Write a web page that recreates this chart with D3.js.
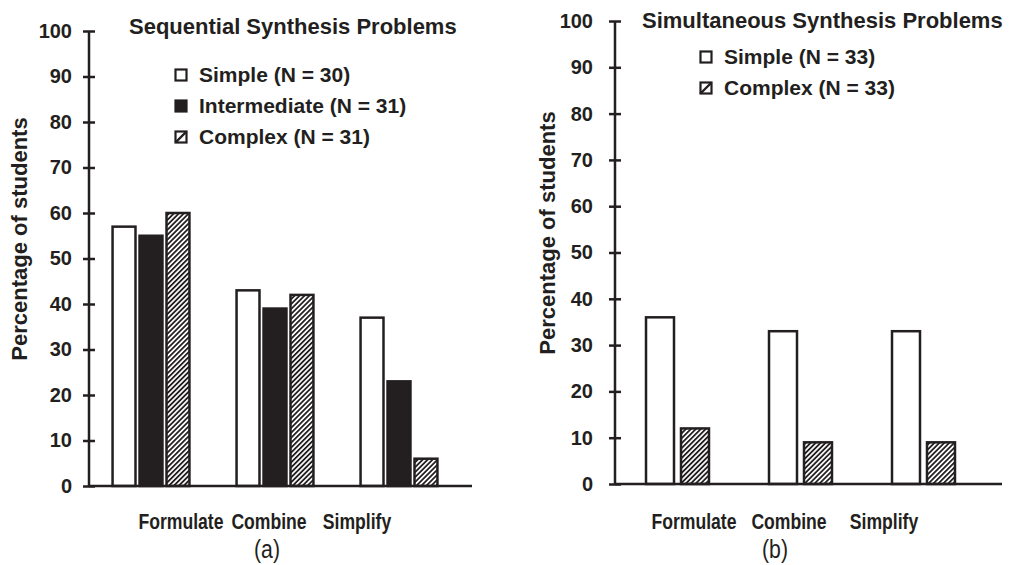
<!DOCTYPE html>
<html>
<head>
<meta charset="utf-8">
<script src="https://cdn.jsdelivr.net/npm/d3@7"></script>
<style>
  body { margin: 0; background: #fff; }
  svg { display: block; font-family: "Liberation Sans", Arial, sans-serif; }
</style>
</head>
<body>
<svg id="chart" width="1013" height="565"></svg>
<script>
//Data
var categories = ["Formulate", "Combine", "Simplify"];
var yTicks = [0, 10, 20, 30, 40, 50, 60, 70, 80, 90, 100];

var seqSeries = ["Simple (N = 30)", "Intermediate (N = 31)", "Complex (N = 31)"];
var seqSimple = [57, 43, 37];
var seqIntermediate = [55, 39, 23];
var seqComplex = [60, 42, 6];

var simSeries = ["Simple (N = 33)", "Complex (N = 33)"];
var simSimple = [36, 33, 33];
var simComplex = [12, 9, 9];

var svg = d3.select("#chart");
var ink = "#231f20";

//Hatch pattern for the "complex" bars
var defs = svg.append("defs");
var pat = defs.append("pattern")
    .attr("id", "hatch")
    .attr("patternUnits", "userSpaceOnUse")
    .attr("width", 3.5)
    .attr("height", 3.5)
    .attr("patternTransform", "rotate(45)");
pat.append("rect").attr("width", 3.5).attr("height", 3.5).attr("fill", "#fff");
pat.append("line")
    .attr("x1", 0).attr("y1", 0).attr("x2", 0).attr("y2", 3.5)
    .attr("stroke", ink).attr("stroke-width", 3.6);

var fills = { simple: "#fff", intermediate: ink, complex: "url(#hatch)" };

//Draws one panel
function panel(cfg)
{
    var g = svg.append("g");

    var y = d3.scaleLinear().domain([0, 100]).range([cfg.yBottom, cfg.yTop]);

    var x0 = d3.scaleBand()
        .domain(categories)
        .range(cfg.bandRange)
        .paddingInner(cfg.groupPad)
        .paddingOuter(cfg.groupPad / 2);

    var x1 = d3.scaleBand()
        .domain(cfg.series.map(function(s) { return s.name; }))
        .range([0, x0.bandwidth()])
        .paddingInner(cfg.barPad);

    //Bars
    cfg.series.forEach(function(s) {
        g.selectAll(null)
            .data(s.values)
            .enter()
            .append("rect")
            .attr("x", function(d, i) { return x0(categories[i]) + x1(s.name); })
            .attr("y", function(d) { return y(d); })
            .attr("width", x1.bandwidth())
            .attr("height", function(d) { return y(0) - y(d); })
            .attr("fill", s.fill)
            .attr("stroke", ink)
            .attr("stroke-width", 2.5);
    });

    //Y axis
    var yAxis = d3.axisLeft(y)
        .tickValues(yTicks)
        .tickSize(6)
        .tickPadding(cfg.tickPad);
    var ya = g.append("g")
        .attr("transform", "translate(" + cfg.axisX + ",0)")
        .call(yAxis);
    ya.select(".domain").remove();
    ya.append("line")
        .attr("x1", 0).attr("x2", 0)
        .attr("y1", y(100)).attr("y2", y(0))
        .attr("stroke", ink).attr("stroke-width", 2.5);
    ya.selectAll(".tick line")
        .attr("x1", 6)
        .attr("x2", -6)
        .attr("stroke", ink)
        .attr("stroke-width", 2.5);
    ya.selectAll(".tick text")
        .attr("fill", ink)
        .style("font-size", "20px")
        .style("font-weight", "bold")
        .style("font-family", "'Liberation Sans', Arial, sans-serif");

    //X axis line
    g.append("line")
        .attr("x1", cfg.axisX).attr("x2", cfg.xEnd)
        .attr("y1", y(0)).attr("y2", y(0))
        .attr("stroke", ink).attr("stroke-width", 2.5);

    //Category labels (narrow lettering, and off the bar groups like the original)
    var xl = d3.scalePoint().domain(categories).range(cfg.labelRange);
    g.selectAll(".cat")
        .data(categories)
        .enter()
        .append("text")
        .attr("class", "cat")
        .attr("transform", function(d) {
            return "translate(" + xl(d) + "," + cfg.labelY + ") scale(0.8,1)";
        })
        .attr("text-anchor", "middle")
        .attr("fill", ink)
        .style("font-size", "22px")
        .style("font-weight", "bold")
        .text(function(d) { return d; });

    //Y title
    g.append("text")
        .attr("transform", "translate(" + cfg.yTitleX + "," + cfg.yTitleY + ") rotate(-90)")
        .attr("text-anchor", "middle")
        .attr("fill", ink)
        .style("font-size", "22px")
        .style("font-weight", "bold")
        .text("Percentage of students");

    //Title
    g.append("text")
        .attr("x", cfg.titleX)
        .attr("y", cfg.titleY)
        .attr("fill", ink)
        .style("font-size", "22px")
        .style("font-weight", "bold")
        .text(cfg.title);

    //Legend
    var legend = g.selectAll(".legend")
        .data(cfg.series)
        .enter()
        .append("g")
        .attr("class", "legend")
        .attr("transform", function(d, i) {
            return "translate(" + cfg.legendX + "," + (cfg.legendY + i * 31) + ")";
        });

    legend.append("rect")
        .attr("x", -5.5).attr("y", -5.5)
        .attr("width", 11).attr("height", 11)
        .attr("fill", function(d) { return d.key == "intermediate" ? ink : "#fff"; })
        .attr("stroke", ink)
        .attr("stroke-width", 2.2);

    legend.filter(function(d) { return d.key == "complex"; })
        .append("line")
        .attr("x1", -5.5).attr("y1", 5.5).attr("x2", 5.5).attr("y2", -5.5)
        .attr("stroke", ink).attr("stroke-width", 2.4);

    legend.append("text")
        .attr("x", 18)
        .attr("y", 7)
        .attr("fill", ink)
        .style("font-size", "21px")
        .style("font-weight", "bold")
        .text(function(d) { return d.name; });

    //Panel letter
    svg.append("text")
        .attr("transform", "translate(" + cfg.letterX + ",558) scale(0.85,1)")
        .attr("text-anchor", "middle")
        .attr("fill", ink)
        .style("font-size", "25px")
        .text(cfg.letter);
}

panel({
    title: "Sequential Synthesis Problems",
    letter: "(a)",
    series: [
        { name: seqSeries[0], key: "simple", values: seqSimple, fill: fills.simple },
        { name: seqSeries[1], key: "intermediate", values: seqIntermediate, fill: fills.intermediate },
        { name: seqSeries[2], key: "complex", values: seqComplex, fill: fills.complex }
    ],
    axisX: 89, yTop: 31, yBottom: 486, xEnd: 472, tickPad: 11,
    bandRange: [89, 461], groupPad: 0.38, barPad: 0.15,
    labelRange: [181, 357], labelY: 529,
    yTitleX: 27, yTitleY: 239,
    titleX: 129, titleY: 34,
    legendX: 181, legendY: 75,
    letterX: 267
});

panel({
    title: "Simultaneous Synthesis Problems",
    letter: "(b)",
    series: [
        { name: simSeries[0], key: "simple", values: simSimple, fill: fills.simple },
        { name: simSeries[1], key: "complex", values: simComplex, fill: fills.complex }
    ],
    axisX: 615, yTop: 21, yBottom: 484, xEnd: 1002, tickPad: 16,
    bandRange: [616, 985], groupPad: 0.488, barPad: 0.2,
    labelRange: [694, 884], labelY: 529,
    yTitleX: 555, yTitleY: 233,
    titleX: 642, titleY: 28,
    legendX: 706, legendY: 57,
    letterX: 775
});
</script>
</body>
</html>
